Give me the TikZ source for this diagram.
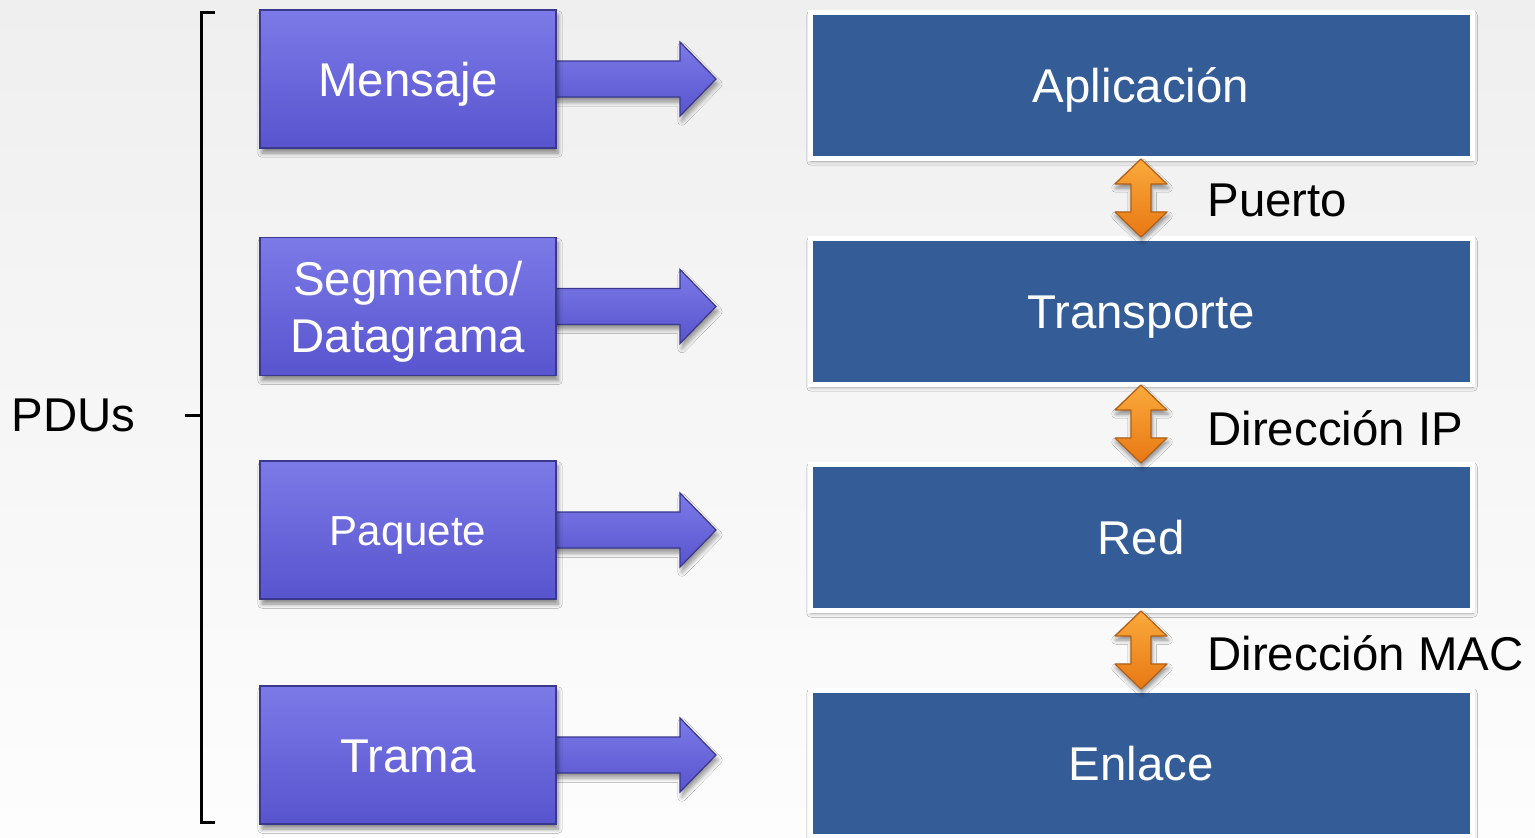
\documentclass[tikz,border=0pt]{standalone}
\usepackage{fontspec}
\setmainfont{Liberation Sans}
\usetikzlibrary{calc,shadows.blur}

\definecolor{bgtop}{RGB}{239,239,239}
\definecolor{bgbot}{RGB}{253,253,253}
\definecolor{pdutop}{RGB}{124,122,232}
\definecolor{pdubot}{RGB}{88,84,206}
\definecolor{pduedge}{RGB}{58,56,140}
\definecolor{layerfill}{RGB}{52,92,150}
\definecolor{otop}{RGB}{250,170,60}
\definecolor{obot}{RGB}{232,120,20}
\definecolor{oedge}{RGB}{180,95,20}

\tikzset{
  txt/.style={font=\fontsize{23.7}{28.5}\selectfont},
  capcentre/.style={text height=17pt, text depth=0pt},
  pdubox/.style={txt, text=white, align=center, inner sep=0pt,
    minimum width=148pt, minimum height=69pt,
    top color=pdutop, bottom color=pdubot, draw=pduedge, line width=0.8pt,
    blur shadow={shadow xshift=1pt, shadow yshift=-2.5pt, shadow blur steps=6, shadow opacity=45}},
  pduarrow/.style={top color=pdutop, bottom color=pdubot, draw=pduedge, line width=0.6pt,
    blur shadow={shadow xshift=1pt, shadow yshift=-2.5pt, shadow blur steps=6, shadow opacity=40}},
  layer/.style={txt, capcentre, text=white, inner sep=0pt,
    minimum width=331pt, minimum height=73pt,
    fill=layerfill, draw=white, line width=2.5pt,
    blur shadow={shadow xshift=0.5pt, shadow yshift=-1.5pt, shadow blur steps=5, shadow opacity=35}},
  updown/.style={top color=otop, bottom color=obot, draw=oedge, line width=0.6pt, line join=round,
    blur shadow={shadow xshift=0.5pt, shadow yshift=-2pt, shadow blur steps=5, shadow opacity=45}},
  addr/.style={txt, anchor=west, inner sep=0pt},
  brace/.style={line width=1.5pt, line join=miter}
}

\begin{document}
\begin{tikzpicture}[x=0.5pt,y=-0.5pt]
  % page and background
  \useasboundingbox (0,0) rectangle (1535,837);
  \shade[top color=bgtop, bottom color=bgbot] (0,0) rectangle (1535,837);

  % PDU label and the bracket that groups the four units
  \node[txt, anchor=west, inner sep=0pt] (pdus) at (11,415) {PDUs};
  \draw[brace] (215,12) -- (201,12) -- (201,822) -- (215,822);
  \draw[brace] (185,415) -- (201,415);

  % protocol data units: arrows first, boxes on top
  \foreach \y in {79,306.5,530,755}{
    \draw[pduarrow, shift={(556,\y)}] (-16,-18) -- (124,-18) -- (124,-37) -- (160,0)
      -- (124,37) -- (124,18) -- (-16,18) -- cycle;
  }
  \node[pdubox, capcentre] (m1) at (408,79) {Mensaje};
  \node[pdubox] (m2) at (408,306.5) {};
  \node[txt, text=white, align=center, inner sep=0pt, yshift=-2.5pt] (m2text) at (m2) {Segmento/\\Datagrama};
  \node[pdubox, text height=15pt, text depth=0pt, font=\fontsize{21}{25}\selectfont] (m3) at (408,530) {Paquete};
  \node[pdubox, capcentre] (m4) at (408,755) {Trama};

  % protocol layers
  \node[layer] (app) at (1141,85)  {Aplicación};
  \node[layer] (tra) at (1141,311) {Transporte};
  \node[layer] (net) at (1141,537) {Red};
  \node[layer] (lnk) at (1141,763) {Enlace};

  % addressing between adjacent layers
  \foreach \a/\b in {app/tra, tra/net, net/lnk}{
    \draw[updown, shift={($(\a.south)!0.5!(\b.north)$)}]
      (0,-39) -- (26,-14) -- (10,-14) -- (10,14) -- (26,14) -- (0,39)
      -- (-26,14) -- (-10,14) -- (-10,-14) -- (-26,-14) -- cycle;
  }
  \node[addr] (port) at (1207,200) {Puerto};
  \node[addr] (ip)   at (1207,428) {Dirección IP};
  \node[addr] (mac)  at (1207,653) {Dirección MAC};
\end{tikzpicture}
\end{document}
